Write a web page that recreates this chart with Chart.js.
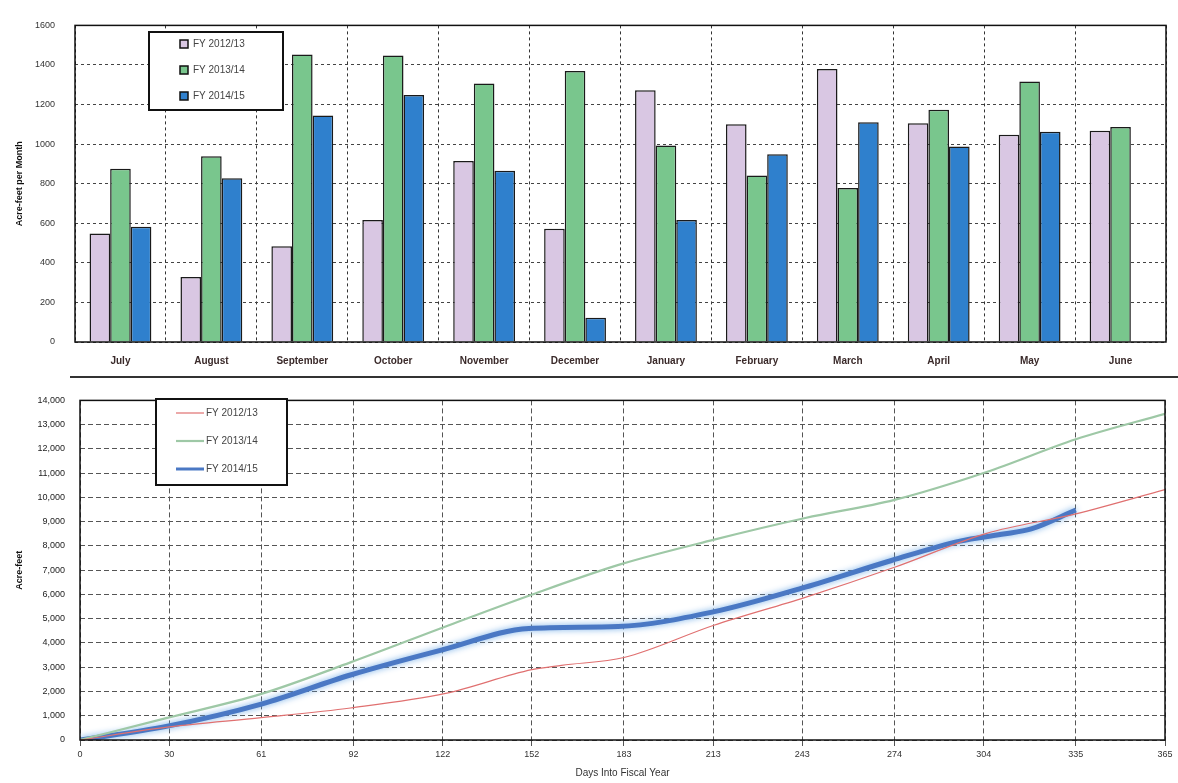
<!DOCTYPE html>
<html>
<head>
<meta charset="utf-8">
<script src="https://cdn.jsdelivr.net/npm/chart.js@4.4.1/dist/chart.umd.min.js"></script>
<style>
    html, body { margin: 0; padding: 0; background: #fff; }
    #wrap { position: relative; width: 1178px; height: 783px; overflow: hidden; }
    #barChart { position: absolute; left: 0; top: 0; }
    #lineChart { position: absolute; left: 0; top: 380px; }
    .sep { position: absolute; left: 70px; top: 376px; width: 1108px; height: 2px; background: #333; }
</style>
</head>
<body>
<div id="wrap">
    <canvas id="barChart" width="1178" height="374"></canvas>
    <div class="sep"></div>
    <canvas id="lineChart" width="1178" height="403"></canvas>
</div>
<script>
// Monthly diversions (acre-feet per month)
const months = ['July', 'August', 'September', 'October', 'November', 'December',
    'January', 'February', 'March', 'April', 'May', 'June'];
const fy1213 = [548, 328, 484, 616, 915, 572, 1272, 1101, 1380, 1106, 1047, 1067];
const fy1314 = [876, 939, 1453, 1448, 1306, 1370, 993, 841, 778, 1174, 1316, 1086];
const fy1415 = [582, 827, 1145, 1248, 866, 122, 616, 949, 1111, 988, 1062, null];

// Cumulative acre-feet
const days1213 = [0, 30, 61, 91, 123, 152, 162, 183, 213, 244, 274, 305, 335, 365];
const cum1213 = [0, 540, 920, 1320, 1920, 2900, 3080, 3400, 4720, 5880, 7120, 8520, 9320, 10320];
const days1314 = [0, 29, 61, 91, 123, 151, 182, 213, 244, 274, 305, 335, 365];
const cum1314 = [0, 900, 1900, 3200, 4680, 5950, 7250, 8250, 9150, 9900, 11050, 12400, 13450];
const days1415 = [0, 29, 61, 91, 122, 151, 181, 213, 244, 273, 296, 310, 320, 335];
const cum1415 = [0, 560, 1480, 2680, 3720, 4600, 4680, 5280, 6300, 7400, 8200, 8480, 8700, 9480];

const dayTicks = [0, 30, 61, 92, 122, 152, 183, 213, 243, 274, 304, 335, 365];
const seriesNames = ['FY 2012/13', 'FY 2013/14', 'FY 2014/15'];

const FONT = '"Liberation Sans", Arial, sans-serif';
Chart.defaults.font.family = FONT;
Chart.defaults.color = '#222';

function toPoints(xs, ys) {
    return xs.map((x, i) => ({ x: x, y: ys[i] }));
}

// black frame round the plot area
const frame = {
    id: 'frame',
    afterDraw(chart) {
        const a = chart.chartArea;
        const ctx = chart.ctx;
        ctx.save();
        ctx.strokeStyle = '#111';
        ctx.lineWidth = 1.5;
        ctx.strokeRect(a.left, a.top, a.right - a.left, a.bottom - a.top);
        ctx.restore();
    }
};

// legend drawn as a boxed panel inside the plot
const boxLegend = {
    id: 'boxLegend',
    afterDraw(chart, args, opts) {
        const ctx = chart.ctx;
        ctx.save();
        ctx.fillStyle = '#fff';
        ctx.fillRect(opts.x, opts.y, opts.w, opts.h);
        ctx.strokeStyle = '#111';
        ctx.lineWidth = 2;
        ctx.strokeRect(opts.x, opts.y, opts.w, opts.h);
        ctx.font = '10px ' + FONT;
        ctx.textBaseline = 'middle';
        chart.data.datasets.forEach((ds, i) => {
            const y = opts.y + opts.first + i * opts.step;
            if (opts.kind === 'box') {
                ctx.fillStyle = ds.backgroundColor;
                ctx.fillRect(opts.x + 31, y - 4, 8, 8);
                ctx.strokeStyle = '#111';
                ctx.lineWidth = 1.5;
                ctx.strokeRect(opts.x + 31, y - 4, 8, 8);
                ctx.fillStyle = '#444';
                ctx.fillText(ds.label, opts.x + 44, y);
            } else {
                ctx.strokeStyle = ds.borderColor;
                ctx.lineWidth = Math.min(ds.borderWidth, 3);
                ctx.beginPath();
                ctx.moveTo(opts.x + 20, y);
                ctx.lineTo(opts.x + 48, y);
                ctx.stroke();
                ctx.fillStyle = '#444';
                ctx.fillText(ds.label, opts.x + 50, y);
            }
        });
        ctx.restore();
    }
};

const glow = {
    id: 'glow',
    beforeDatasetDraw(chart, args) {
        if (args.index !== 2) return;
        chart.ctx.save();
        chart.ctx.shadowColor = 'rgba(110,170,230,0.9)';
        chart.ctx.shadowBlur = 6;
    },
    afterDatasetDraw(chart, args) {
        if (args.index !== 2) return;
        chart.ctx.restore();
    }
};

// Upper chart: bars per month
new Chart(document.getElementById('barChart'), {
    type: 'bar',
    data: {
        labels: months,
        datasets: [
            { label: seriesNames[0], data: fy1213, backgroundColor: '#d9c7e3' },
            { label: seriesNames[1], data: fy1314, backgroundColor: '#79c68d' },
            { label: seriesNames[2], data: fy1415, backgroundColor: '#2f80cd' }
        ].map(d => Object.assign(d, { borderColor: '#1a1a1a', borderWidth: 1.5 }))
    },
    options: {
        responsive: false,
        animation: false,
        layout: { padding: { top: 15, right: 12, left: 0, bottom: 0 } },
        datasets: { bar: { categoryPercentage: 0.68, barPercentage: 1.0 } },
        plugins: {
            legend: { display: false },
            tooltip: { enabled: false },
            boxLegend: { kind: 'box', x: 149, y: 32, w: 134, h: 78, first: 12, step: 26 }
        },
        scales: {
            x: {
                grid: { color: '#333', drawTicks: false, offset: true },
                border: { display: false, dash: [3, 3] },
                ticks: { padding: 13, font: { size: 10, weight: 'bold' }, color: '#3a2a2a' },
                afterFit(s) { s.height = 32; }
            },
            y: {
                min: 0, max: 1600,
                ticks: { stepSize: 200, padding: 20, font: { size: 9 }, color: '#333', callback: v => String(v) },
                grid: { color: '#444', drawTicks: false },
                border: { display: false, dash: [3, 3] },
                title: { display: true, text: 'Acre-feet per Month', font: { size: 9, weight: 'bold' }, color: '#111', padding: { top: 14, bottom: 0 } },
                afterFit(s) { s.width = 75; }
            }
        }
    },
    plugins: [frame, boxLegend]
});

// Lower chart: cumulative acre-feet by day of fiscal year
new Chart(document.getElementById('lineChart'), {
    type: 'line',
    data: {
        datasets: [
            { label: seriesNames[0], data: toPoints(days1213, cum1213), borderColor: '#e07070', borderWidth: 1.2 },
            { label: seriesNames[1], data: toPoints(days1314, cum1314), borderColor: '#9ec8a6', borderWidth: 2.2 },
            { label: seriesNames[2], data: toPoints(days1415, cum1415), borderColor: '#4a78c4', borderWidth: 5 }
        ].map(d => Object.assign(d, { pointRadius: 0, fill: false, tension: 0.3, cubicInterpolationMode: 'monotone' }))
    },
    options: {
        responsive: false,
        animation: false,
        layout: { padding: { top: 10, right: 13, left: 0, bottom: 0 } },
        plugins: {
            legend: { display: false },
            tooltip: { enabled: false },
            boxLegend: { kind: 'line', x: 156, y: 19, w: 131, h: 86, first: 14, step: 28 }
        },
        scales: {
            x: {
                type: 'linear', min: 0, max: 365,
                afterBuildTicks(s) { s.ticks = dayTicks.map(v => ({ value: v })); },
                ticks: { autoSkip: false, maxRotation: 0, font: { size: 9 }, color: '#333' },
                grid: { color: '#555', tickLength: 6 },
                border: { display: false, dash: [5, 3] },
                title: { display: true, text: 'Days Into Fiscal Year', font: { size: 10 }, color: '#333', padding: { top: 2 } },
                afterFit(s) { s.height = 43; }
            },
            y: {
                min: 0, max: 14000,
                ticks: {
                    stepSize: 1000, padding: 15, font: { size: 9 }, color: '#222',
                    callback: v => v.toLocaleString('en-US')
                },
                grid: { color: '#555', drawTicks: false },
                border: { display: false, dash: [5, 3] },
                title: { display: true, text: 'Acre-feet', font: { size: 9, weight: 'bold' }, color: '#111', padding: { top: 14, bottom: 0 } },
                afterFit(s) { s.width = 80; }
            }
        }
    },
    plugins: [frame, boxLegend, glow]
});
</script>
</body>
</html>
